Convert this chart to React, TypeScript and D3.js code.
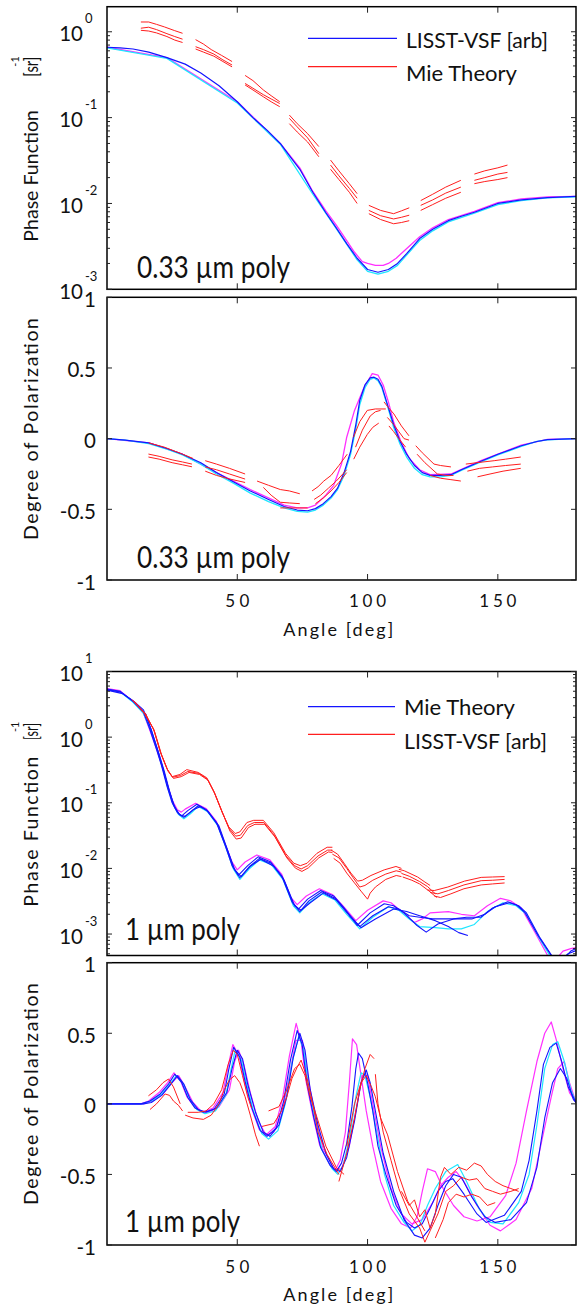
import React from "react";
import * as d3 from "d3";

type Pt = [number, number];
type Seg = Pt[];

// ---------- axis ticks / labels ----------
const angleTicks = [50, 100, 150];
const angleTickLabels = ["50", "100", "150"];
const dopTicks = [-1, -0.5, 0, 0.5, 1];
const dopTickLabels = ["-1", "-0.5", "0", "0.5", "1"];
const p1Decades = [-3, -2, -1, 0];
const p3Decades = [-3, -2, -1, 0, 1];

// ---------- Panel 1 : phase function, 0.33 um ----------
const p1Blue: Pt[] = [[0,0.66],[5,0.65],[10,0.63],[16,0.58],[23,0.50],[30,0.42],[36,0.33],[43,0.235],[50,0.153],[56,0.10],[61.5,0.071],[66.5,0.050],[70,0.036],[74,0.025],[79,0.0135],[84,0.0078],[88,0.0052],[92,0.0034],[96,0.0023],[100,0.0017],[104,0.00158],[108,0.0017],[111.5,0.0020],[115,0.0026],[120,0.0039],[125,0.0050],[131,0.0063],[136,0.0071],[141,0.0079],[150,0.0100],[159,0.0110],[169,0.0117],[180,0.0121]];
const p1Magenta: Pt[] = [[0,0.66],[23,0.50],[50,0.153],[66.5,0.050],[74,0.026],[79,0.0138],[84,0.0082],[88,0.0056],[92,0.0037],[95,0.0027],[98,0.0021],[100,0.0020],[103,0.0019],[106,0.0019],[108,0.0020],[111,0.0023],[114,0.0028],[120,0.0041],[125,0.0052],[131,0.0065],[141,0.0081],[150,0.0102],[159,0.0113],[169,0.0119],[180,0.0121]];
const p1Cyan: Pt[] = [[0,0.65],[23,0.49],[50,0.148],[66.5,0.049],[79,0.0128],[88,0.0051],[96,0.0022],[100,0.00162],[104,0.00150],[108,0.00162],[111.5,0.0019],[115,0.0025],[120,0.0037],[125,0.0048],[131,0.0061],[141,0.0077],[150,0.0097],[159,0.0108],[169,0.0116],[180,0.0119]];
const p1RedTop: Seg[] = [
  [[13,1.30],[16,1.30],[19,1.22],[22,1.14],[26,1.03],[29,0.96]],
  [[34,0.81],[37,0.72],[40,0.62],[44,0.53],[48,0.45]],
  [[53,0.31],[56,0.27],[60,0.21],[63,0.18],[66.3,0.153]],
  [[70,0.107],[73,0.085],[77,0.065],[81.3,0.046]],
  [[85.8,0.032],[89,0.024],[93,0.017],[96,0.013]],
  [[100.5,0.0095],[105,0.0083],[110,0.0076],[113,0.0082],[116,0.0089]],
  [[120.4,0.0108],[125,0.0128],[130,0.0155],[135.8,0.0186]],
  [[141,0.022],[145,0.024],[150,0.026],[153.7,0.028]],
];
const p1RedMid: Seg[] = [
  [[13,1.10],[16,1.13],[19,1.06],[23,0.95],[26,0.88],[29,0.82]],
  [[34,0.67],[37,0.62],[41,0.55],[44.5,0.47],[48,0.41]],
  [[53,0.25],[56,0.22],[60,0.185],[63,0.165],[66.3,0.146]],
  [[70,0.098],[73,0.078],[77,0.058],[81.3,0.038]],
  [[85.8,0.028],[89,0.021],[93,0.015],[96,0.0115]],
  [[100.5,0.0083],[105,0.0072],[110,0.0066],[113,0.0069],[116,0.0073]],
  [[120.4,0.0095],[125,0.011],[130,0.0132],[135.8,0.0155]],
  [[141,0.0186],[145,0.020],[150,0.022],[153.7,0.023]],
];
const p1RedLow: Seg[] = [
  [[13,1.04],[16,1.02],[19,0.97],[23,0.88],[26,0.80],[29,0.75]],
  [[34,0.63],[37,0.58],[41,0.52],[44.5,0.45],[48,0.39]],
  [[53,0.24],[56,0.21],[60,0.175],[63,0.153],[66.3,0.134]],
  [[70,0.085],[73,0.068],[77,0.052],[81.3,0.035]],
  [[85.8,0.025],[89,0.019],[93,0.0135],[96,0.010]],
  [[100.5,0.0076],[105,0.0065],[110,0.0058],[113,0.006],[116,0.0063]],
  [[120.4,0.0083],[125,0.0097],[130,0.0115],[135.8,0.0135]],
  [[141,0.017],[145,0.018],[150,0.019],[153.7,0.020]],
];

// ---------- Panel 2 : degree of polarization, 0.33 um ----------
const p2Blue: Pt[] = [[0,0],[7,-0.01],[16,-0.03],[23,-0.07],[29,-0.11],[36,-0.17],[42,-0.24],[49,-0.31],[55,-0.37],[62,-0.43],[68,-0.48],[73,-0.505],[77,-0.51],[80,-0.495],[83,-0.46],[86,-0.41],[88.5,-0.35],[91,-0.24],[93.5,-0.09],[95.5,0.10],[97,0.27],[99,0.38],[101,0.43],[102.5,0.435],[104,0.42],[105.5,0.37],[107.5,0.25],[110,0.10],[112.5,-0.02],[115,-0.11],[118,-0.19],[121,-0.24],[124,-0.26],[128,-0.26],[132,-0.255],[136,-0.22],[143.5,-0.16],[150,-0.11],[159,-0.05],[165,-0.02],[169,-0.007],[180,0]];
const p2Magenta: Pt[] = [[0,0],[16,-0.03],[29,-0.11],[42,-0.24],[55,-0.36],[68,-0.47],[73,-0.49],[77,-0.49],[80,-0.47],[84,-0.40],[87,-0.33],[90,-0.18],[92,0.01],[95,0.20],[98.6,0.36],[101.8,0.46],[104,0.45],[106,0.38],[108,0.26],[110,0.12],[113,-0.03],[116,-0.14],[120,-0.22],[124,-0.255],[132,-0.25],[143.5,-0.155],[159,-0.045],[169,-0.005],[180,0]];
const p2Cyan: Pt[] = [[0,0],[7,-0.01],[16,-0.035],[23,-0.075],[29,-0.115],[36,-0.18],[42,-0.25],[49,-0.32],[55,-0.385],[62,-0.445],[68,-0.49],[73,-0.515],[77,-0.52],[80,-0.505],[83,-0.47],[86,-0.42],[88.5,-0.36],[91,-0.26],[93.5,-0.11],[95.5,0.07],[97,0.24],[99,0.36],[101,0.42],[102.5,0.43],[104,0.41],[105.5,0.36],[107.5,0.24],[110,0.08],[112.5,-0.04],[115,-0.13],[118,-0.21],[121,-0.255],[124,-0.27],[128,-0.27],[132,-0.26],[136,-0.225],[143.5,-0.165],[150,-0.115],[159,-0.055],[165,-0.02],[169,-0.008],[180,0]];
const p2RedTop: Seg[] = [
  [[16,-0.03],[22,-0.06],[29,-0.11],[33,-0.14]],
  [[37.7,-0.156],[42,-0.18],[47,-0.21],[53,-0.25]],
  [[57.6,-0.30],[62,-0.33],[66.5,-0.36],[70,-0.37],[74,-0.39]],
  [[78.7,-0.37],[81,-0.34],[83.2,-0.30],[86,-0.26],[89,-0.19],[92.2,-0.11]],
  [[94.6,0.01],[97,0.12],[99.9,0.2],[103,0.21],[107,0.21]],
  [[106.3,0.26],[108,0.22],[110.1,0.175],[113,0.09],[115.9,0.02]],
  [[118.5,-0.05],[121,-0.1],[125.5,-0.18],[128,-0.19],[132,-0.2]],
  [[137.7,-0.18],[142,-0.17],[148.6,-0.156],[153,-0.145],[158.8,-0.13]],
];
const p2RedMid: Seg[] = [
  [[15.9,-0.109],[20,-0.125],[25,-0.15],[29,-0.165],[32.6,-0.18]],
  [[37.7,-0.20],[42,-0.22],[47,-0.25],[53,-0.286]],
  [[60,-0.345],[63,-0.40],[66.5,-0.45],[70,-0.455],[74,-0.46]],
  [[79.5,-0.43],[82,-0.40],[85,-0.35],[88,-0.30],[92,-0.22]],
  [[95.4,-0.06],[98,0.06],[101,0.16],[103,0.19],[105,0.2]],
  [[107.6,0.15],[110,0.1],[112,0.05],[114,0.0],[115.9,-0.01]],
  [[119,-0.11],[122,-0.17],[126.8,-0.25],[130,-0.26],[133,-0.26]],
  [[138.3,-0.23],[143,-0.21],[148,-0.20],[153,-0.19],[158.8,-0.18]],
];
const p2RedLow: Seg[] = [
  [[15.9,-0.13],[20,-0.145],[25,-0.17],[29,-0.185],[32.6,-0.199]],
  [[37.7,-0.23],[42,-0.26],[47,-0.285],[53,-0.31]],
  [[66.5,-0.49],[70,-0.49],[74,-0.49],[77,-0.49]],
  [[80,-0.46],[83,-0.42],[86,-0.37],[89,-0.31],[92,-0.24]],
  [[94.7,-0.145],[97,-0.06],[99.9,0.03],[102,0.08],[104.3,0.11]],
  [[108.2,0.09],[110,0.05],[112,0.0],[114.6,-0.06]],
  [[124,-0.26],[128,-0.28],[132,-0.29],[135.8,-0.30]],
  [[142.2,-0.27],[147,-0.25],[152,-0.23],[158.8,-0.21]],
];

// ---------- Panel 3 : phase function, 1 um ----------
const p3BlueA: Pt[] = [[0,5.4],[5,5.0],[10,3.5],[14,2.4],[16.5,1.3],[19,0.65],[21,0.36],[23,0.18],[25,0.10],[27,0.071],[28.7,0.063],[31,0.076],[34.5,0.095],[38,0.079],[42,0.050],[45.4,0.022],[48,0.011],[50.4,0.0078],[54,0.011],[58,0.015],[62.7,0.0126],[67,0.0078],[71,0.0031],[73.5,0.0024],[77,0.0034],[82,0.0046],[87,0.0038],[91,0.0025],[96,0.00135],[101,0.0021],[106.4,0.0029],[110,0.0027],[114,0.0021],[119,0.00135],[122.5,0.00107],[127,0.00142],[133,0.0017],[138,0.0018],[143.5,0.0018],[148,0.0025],[153.8,0.0031],[157,0.0028],[160.3,0.00215],[165.4,0.00095],[170.5,0.00047],[173,0.0004],[176,0.00045],[178,0.00055],[180,0.0006]];
const p3BlueB: Pt[] = [[0,5.3],[5,4.9],[10,3.6],[14,2.6],[17,1.3],[19.5,0.62],[21.5,0.33],[23.5,0.17],[25.5,0.095],[27.5,0.068],[29.5,0.060],[32,0.072],[35,0.090],[38.5,0.076],[42.5,0.046],[46,0.020],[48.5,0.0105],[51,0.0072],[54.5,0.0105],[58.5,0.0142],[63,0.012],[67.5,0.0072],[71.5,0.0029],[74,0.0022],[77.5,0.0032],[82.5,0.0044],[87.5,0.0035],[92,0.0022],[97,0.0013],[102,0.0019],[108,0.0026],[112,0.0024],[116,0.0019],[120,0.0018],[125,0.0017],[130,0.0017],[135,0.0017],[140,0.0017],[145,0.0020],[149,0.0026],[154.5,0.0030],[158,0.0027],[161,0.0021],[166,0.0009],[171,0.00045],[174,0.0004],[177,0.0005],[180,0.00056]];
const p3BlueC: Pt[] = [[0,5.2],[6,4.6],[11,3.3],[15,2.2],[17.5,1.1],[20,0.55],[22,0.3],[24,0.15],[26,0.085],[28,0.065],[30,0.062],[33,0.078],[36,0.088],[39,0.072],[43,0.044],[46.5,0.018],[49,0.0095],[51.5,0.0075],[55,0.0108],[59,0.0138],[64,0.0108],[68,0.0066],[72,0.0027],[74.5,0.0023],[78,0.0030],[83,0.0042],[88,0.0033],[93,0.0019],[97.5,0.00125],[103,0.0017],[110,0.0024],[115,0.0022],[120,0.0019],[126,0.0016],[131,0.0013],[135,0.00105],[138.5,0.00095]];
const p3Magenta: Pt[] = [[0,5.5],[5,5.1],[10,3.5],[14,2.3],[16.5,1.25],[19,0.66],[21,0.38],[23,0.2],[25,0.11],[27,0.078],[28.5,0.072],[30,0.08],[34,0.098],[38,0.082],[42,0.052],[45.4,0.023],[48,0.0125],[50,0.0095],[53,0.0125],[57.5,0.016],[62.5,0.0135],[67,0.0082],[70.5,0.0036],[73,0.0028],[76.5,0.0038],[81.5,0.0049],[86.5,0.0040],[90.5,0.0027],[95.5,0.0016],[100,0.0023],[106,0.0032],[109,0.0030],[113,0.0022],[118,0.0015],[121,0.0017],[124,0.0021],[131,0.0022],[136,0.0020],[141,0.0019],[146,0.0027],[151,0.0035],[155,0.0032],[159,0.0025],[164,0.0011],[169,0.00048],[172,0.0004],[175,0.00055],[178,0.0006],[180,0.00062]];
const p3Cyan: Pt[] = [[0,5.3],[5,4.9],[10,3.4],[14,2.3],[17,1.2],[19.5,0.6],[21.5,0.32],[23.5,0.16],[25.5,0.092],[27.5,0.066],[29.5,0.057],[32,0.068],[35,0.088],[38.5,0.074],[42.5,0.045],[46,0.019],[48.5,0.0098],[51,0.0068],[54.5,0.0098],[58.5,0.0135],[63,0.0115],[67.5,0.0068],[71.5,0.0027],[74,0.0021],[77.5,0.003],[82.5,0.0041],[87.5,0.0033],[92,0.002],[97,0.0012],[102,0.0018],[108,0.0026],[112,0.0023],[116,0.0017],[120,0.0013],[126,0.00125],[131,0.0012],[136,0.0012],[141,0.0014],[146,0.0022],[152,0.003],[157,0.0027],[161,0.002],[166,0.00085],[171,0.0004]];
const p3RedTop: Seg[] = [
  [[9.5,3.75],[14,2.4],[17.8,1.35],[20.4,0.6],[23,0.33],[25,0.25],[28,0.27],[30.6,0.32],[35,0.29],[38.3,0.24],[41,0.15],[44,0.075],[46.7,0.043],[49.2,0.034],[51,0.036],[53.7,0.05],[56.3,0.054],[60,0.054],[64,0.035],[68.5,0.017],[71.7,0.012],[74.2,0.011],[76.8,0.012],[80.6,0.017],[84.5,0.021],[86.5,0.021]],
  [[86,0.019],[88.5,0.0165],[91,0.012],[93.6,0.0085],[96.2,0.0064],[98,0.0066],[101.3,0.0078],[106.4,0.0095],[110.9,0.0107],[113,0.0100]],
  [[112,0.0097],[114.1,0.0092],[119.2,0.0074],[122,0.0062],[124,0.0055]],
  [[123,0.0047],[125.6,0.0046],[130.8,0.0052],[137.2,0.0064],[143.6,0.0073],[148,0.0074],[152.6,0.0075]],
];
const p3RedMid: Seg[] = [
  [[10,3.6],[14.5,2.3],[18,1.3],[20.6,0.58],[23.2,0.32],[25.2,0.245],[28.2,0.26],[31,0.3],[35.3,0.28],[38.5,0.23],[41.2,0.142],[44.2,0.072],[47,0.04],[49.4,0.031],[51.2,0.032],[54,0.045],[56.5,0.05],[60.2,0.05],[64.2,0.032],[68.7,0.0155],[72,0.011],[74.5,0.0098],[77,0.011],[81,0.0155],[84.7,0.019],[86.5,0.019]],
  [[86.5,0.0165],[89,0.0145],[92,0.01],[94.5,0.0072],[97,0.0052],[99,0.0055],[102,0.0066],[107,0.0082],[111,0.0092],[113,0.0088]],
  [[113,0.0084],[116,0.0076],[120,0.0063],[123,0.0053],[126,0.0041]],
  [[124,0.0043],[127,0.0041],[131,0.0046],[137,0.0056],[143.6,0.0065],[148,0.0066],[152.6,0.0068]],
];
const p3RedLow: Seg[] = [
  [[10.5,3.5],[15,2.2],[18.3,1.2],[21,0.53],[23.5,0.3],[25.5,0.235],[28.5,0.25],[31.5,0.29],[35.5,0.27],[38.8,0.22],[41.5,0.135],[44.5,0.068],[47.2,0.037],[49.6,0.028],[51.5,0.029],[54.3,0.042],[56.8,0.047],[60.5,0.047],[64.5,0.03],[69,0.0145],[72.3,0.0101],[74.8,0.009],[77.3,0.0102],[81.3,0.0145],[85,0.0178],[86.5,0.0175]],
  [[87,0.0142],[89.5,0.012],[92,0.0085],[95,0.006],[97.5,0.0045],[100,0.0034],[101,0.0042],[103,0.0052],[107,0.0068],[111,0.0078],[113,0.0075]],
  [[113.5,0.0074],[117,0.0066],[120,0.0058],[124,0.0044],[126.5,0.0036]],
  [[125.6,0.0038],[128,0.0036],[132,0.0041],[137,0.0049],[143.6,0.0056],[148,0.0058],[152.6,0.006]],
];

// ---------- Panel 4 : degree of polarization, 1 um ----------
const p4BlueA: Pt[] = [[0,0],[13,0],[16.5,0.02],[20.4,0.07],[23.6,0.14],[26,0.21],[28.7,0.15],[31,0.045],[33.8,-0.03],[37,-0.06],[41,-0.04],[45,0.07],[46.7,0.24],[48.6,0.40],[51,0.33],[53,0.16],[55.6,-0.03],[58.8,-0.19],[61.4,-0.23],[65,-0.17],[67.8,0.02],[70.4,0.31],[73,0.52],[74.9,0.42],[76.8,0.14],[79.4,-0.10],[82,-0.31],[85.8,-0.44],[88,-0.48],[90,-0.42],[92,-0.28],[94,-0.02],[95.5,0.25],[96.5,0.36],[98,0.32],[100,0.15],[102,-0.05],[104,-0.3],[107,-0.5],[111,-0.72],[115,-0.84],[118,-0.88],[121,-0.85],[124,-0.74],[127,-0.62],[130,-0.55],[132.7,-0.53],[137,-0.64],[142,-0.78],[145.5,-0.84],[152.5,-0.79],[159,-0.62],[162,-0.40],[165,-0.05],[167.5,0.28],[170,0.40],[172.4,0.43],[174.5,0.3],[177,0.12],[180,0.01]];
const p4BlueB: Pt[] = [[0,0],[14,0],[17,0.01],[21,0.06],[24.5,0.14],[27,0.2],[29.5,0.14],[32,0.03],[35,-0.04],[38,-0.06],[42,-0.03],[46,0.08],[48,0.25],[50,0.38],[52,0.32],[54,0.14],[57,-0.06],[60,-0.2],[62.5,-0.23],[66,-0.15],[69,0.05],[71.5,0.33],[74,0.50],[76,0.38],[78,0.10],[81,-0.15],[84,-0.35],[87,-0.46],[89.5,-0.48],[92,-0.38],[95,-0.12],[97.5,0.15],[99.5,0.24],[101,0.15],[103,-0.05],[106,-0.35],[110,-0.62],[114,-0.82],[118,-0.93],[121,-0.95],[124,-0.88],[127,-0.72],[130,-0.58],[133,-0.50],[136,-0.52],[140,-0.66],[145,-0.8],[149,-0.84],[155,-0.82],[161,-0.70],[165,-0.45],[168,-0.1],[171,0.15],[174,0.25],[176.5,0.18],[179,0.03],[180,0.01]];
const p4MagentaA: Pt[] = [[0,0],[13,0],[16,0.02],[20,0.08],[23.3,0.15],[25.7,0.22],[28.3,0.16],[30.7,0.05],[33.5,-0.02],[36.7,-0.06],[40.7,-0.03],[44.5,0.08],[46.4,0.26],[48.3,0.42],[50.7,0.34],[52.7,0.16],[55.3,-0.02],[58.4,-0.18],[61,-0.22],[64.6,-0.16],[67.4,0.04],[70,0.34],[72.6,0.57],[74.5,0.44],[76.4,0.16],[79,-0.08],[81.6,-0.29],[85.4,-0.43],[87.6,-0.47],[89.5,-0.40],[91.5,-0.20],[93,0.15],[94.2,0.46],[95.8,0.42],[97.5,0.2],[99.5,-0.05],[102,-0.3],[105,-0.55],[109,-0.74],[113,-0.85],[116.5,-0.88],[119,-0.80],[121,-0.62],[123,-0.46],[126,-0.48],[129,-0.6],[133,-0.72],[137,-0.8],[142,-0.83],[147,-0.8],[153,-0.65],[157,-0.42],[161,-0.05],[165,0.3],[168,0.5],[170.5,0.58],[172.5,0.45],[175,0.25],[177.5,0.08],[180,0.01]];
const p4MagentaB: Pt[] = [[0,0],[14,0],[17.5,0.02],[21.5,0.07],[25,0.15],[27.5,0.2],[30,0.12],[33,0.01],[36,-0.05],[39,-0.06],[43,-0.02],[47,0.1],[49,0.3],[50.5,0.38],[52.5,0.28],[55,0.08],[58,-0.12],[61,-0.22],[64,-0.2],[67,-0.08],[70,0.2],[72.5,0.45],[75,0.45],[77,0.2],[80,-0.1],[83,-0.32],[87,-0.46],[90,-0.46],[93,-0.3],[96,0.0],[98,0.2],[100,0.2],[102,0.0],[105,-0.3],[109,-0.6],[113,-0.78],[117,-0.85],[121,-0.82],[125,-0.7],[128,-0.58],[131,-0.52],[134,-0.48],[137,-0.55],[142,-0.72],[147,-0.86],[151,-0.9],[157,-0.82],[163,-0.6],[167,-0.25],[170.5,0.05],[173,0.25],[175.5,0.3],[177.5,0.15],[180,0.01]];
const p4Cyan: Pt[] = [[0,0],[13.5,0],[17,0.02],[21,0.07],[24.2,0.14],[26.6,0.2],[29.3,0.14],[31.6,0.04],[34.4,-0.04],[37.6,-0.07],[41.6,-0.05],[45.6,0.06],[47.3,0.22],[49.2,0.38],[51.6,0.31],[53.6,0.14],[56.2,-0.05],[59.4,-0.21],[62,-0.25],[65.6,-0.19],[68.4,0.0],[71,0.29],[73.6,0.48],[75.5,0.38],[77.4,0.12],[80,-0.12],[82.6,-0.33],[86.4,-0.46],[88.6,-0.5],[90.6,-0.44],[93,-0.25],[95.5,0.05],[97.5,0.22],[99,0.2],[101,0.05],[103.5,-0.2],[106.5,-0.5],[110,-0.72],[114,-0.84],[117,-0.9],[120,-0.86],[123,-0.72],[126,-0.6],[130,-0.48],[134.6,-0.43],[138,-0.55],[143,-0.75],[147,-0.84],[152,-0.85],[158,-0.7],[162,-0.5],[165,-0.15],[168,0.25],[171,0.42],[173,0.44],[175.5,0.3],[178,0.1],[180,0.01]];
const p4RedA: Seg[] = [
  [[15.9,0.057],[19,0.1],[21.5,0.15],[23.6,0.176],[25.5,0.12],[28.1,0.0]],
  [[31,-0.06],[35,-0.06],[38,-0.05],[41,0.0],[44,0.1],[46.5,0.28],[48.5,0.38],[50,0.35],[52,0.2],[54,0.05],[55.5,-0.03]],
  [[59.5,-0.16],[64,-0.14],[67,-0.05],[69,0.05],[71,0.18],[73,0.26],[74.5,0.31],[76.8,0.18],[79,0.0],[81,-0.2],[84.5,-0.36],[89,-0.5]],
  [[89,-0.55],[92,-0.35],[95,-0.1],[97,0.1],[99,0.25],[101,0.35],[102.5,0.32]],
  [[113,-0.62],[116,-0.72],[118,-0.68],[120,-0.8],[122,-0.75],[124,-0.88],[126,-0.78],[128,-0.52],[129.5,-0.45],[132,-0.5],[135,-0.45],[138,-0.47],[141,-0.42],[143.6,-0.44],[146,-0.5],[149,-0.55],[152,-0.58],[155,-0.6],[158,-0.62]],
];
const p4RedB: Seg[] = [
  [[16.5,-0.04],[19,0.0],[22.3,0.07],[24,0.06],[25.5,0.02],[27.4,-0.01],[29,-0.05]],
  [[30,-0.08],[33,-0.1],[37,-0.11],[40,-0.08],[43,0.0],[45,0.1],[47,0.17],[49,0.2],[51,0.15],[53,0.05],[55,-0.08],[57,-0.22],[58.5,-0.3]],
  [[62,-0.05],[66,-0.02],[69,0.1],[72,0.25],[74,0.28],[76,0.2],[78,0.05],[81,-0.12],[84,-0.3],[88,-0.45],[91,-0.5]],
  [[92,-0.3],[95,0.0],[97.5,0.15],[99.5,0.2],[101.5,0.12],[103,0.05],[105,-0.1],[107.7,-0.22],[111.5,-0.48],[115.4,-0.69],[119.2,-0.81],[122,-0.9]],
  [[124,-0.9],[127,-0.78],[130,-0.62],[133,-0.58],[136,-0.52],[139,-0.54],[142,-0.53],[145,-0.6],[148,-0.62],[151,-0.64],[155,-0.62],[158,-0.6]],
];
const p4RedC: Seg[] = [
  [[103,0.21],[104,0.0],[106,-0.2],[109,-0.4],[112,-0.6],[116,-0.78],[120,-0.88],[122,-0.98],[124,-0.9]],
  [[126,-0.95],[129,-0.82],[131,-0.7],[134,-0.64],[137,-0.66],[140,-0.64],[143,-0.66],[146,-0.72],[149,-0.7]],
];

// ---------- layout ----------
const FONT = "Lato, 'Open Sans', sans-serif";
const BLUE = "#1414ff";
const RED = "#ff1e1e";
const MAG = "#ff30ff";
const CYAN = "#1ee6ff";
const X0 = 107, X1 = 576;
const x = d3.scaleLinear().domain([0, 180]).range([X0, X1]);

const P1 = { top: 6.7, bottom: 289.3 };
const P2 = { top: 297.3, bottom: 580 };
const P3 = { top: 671.5, bottom: 955.5 };
const P4 = { top: 962.7, bottom: 1245 };

const y1 = d3.scaleLog().domain([1e-3, 1.959]).range([P1.bottom, P1.top]);
const y2 = d3.scaleLinear().domain([-1, 1]).range([P2.bottom, P2.top]);
const y3 = d3.scaleLog().domain([4.71e-4, 10]).range([P3.bottom, P3.top]);
const y4 = d3.scaleLinear().domain([-1, 1]).range([P4.bottom, P4.top]);

function Frame({ p }: { p: { top: number; bottom: number } }) {
  return <rect x={X0} y={p.top} width={X1 - X0} height={p.bottom - p.top} fill="none" stroke="#000" strokeWidth={1.5} />;
}

function XTicks({ p }: { p: { top: number; bottom: number } }) {
  return (
    <g stroke="#222" strokeWidth={1}>
      {angleTicks.map((t) => (
        <g key={t}>
          <line x1={x(t)} x2={x(t)} y1={p.top} y2={p.top + 6} />
          <line x1={x(t)} x2={x(t)} y1={p.bottom - 6} y2={p.bottom} />
        </g>
      ))}
    </g>
  );
}

function XLabels({ base, title }: { base: number; title: number }) {
  return (
    <g fontFamily={FONT} fill="#111">
      {angleTicks.map((t, i) => (
        <text key={t} x={x(t)} y={base} fontSize={17} textAnchor="middle" textLength={i === 0 ? 24 : 37} lengthAdjust="spacing">
          {angleTickLabels[i]}
        </text>
      ))}
      <text x={338.3} y={title} fontSize={18} textAnchor="middle" textLength={110} lengthAdjust="spacing">Angle [deg]</text>
    </g>
  );
}

function LinYAxis({ ys }: { ys: d3.ScaleLinear<number, number> }) {
  return (
    <g>
      <g stroke="#222" strokeWidth={1}>
        {dopTicks.map((v) => (
          <g key={v}>
            <line x1={X0} x2={X0 + 5} y1={ys(v)} y2={ys(v)} />
            <line x1={X1 - 5} x2={X1} y1={ys(v)} y2={ys(v)} />
          </g>
        ))}
      </g>
      <g fontFamily={FONT} fontSize={20.5} fill="#111" textAnchor="end">
        {dopTicks.map((v, i) => (
          <text key={v} x={96} y={ys(v) + 9.5}>{dopTickLabels[i]}</text>
        ))}
      </g>
    </g>
  );
}

function LogYAxis({ ys, decades }: { ys: d3.ScaleLogarithmic<number, number>; decades: number[] }) {
  const ticks = ys.ticks();
  return (
    <g>
      <g stroke="#222" strokeWidth={1}>
        {ticks.map((v, i) => {
          const major = Math.abs(Math.log10(v) - Math.round(Math.log10(v))) < 1e-6;
          const len = major ? 5 : 3;
          const yy = ys(v);
          return (
            <g key={i}>
              <line x1={X0} x2={X0 + len} y1={yy} y2={yy} />
              <line x1={X1 - len} x2={X1} y1={yy} y2={yy} />
            </g>
          );
        })}
      </g>
      <g fontFamily={FONT} fill="#111">
        {decades.map((k) => {
          const yy = ys(Math.pow(10, k));
          return (
            <g key={k}>
              <text x={83} y={yy + 9.5} fontSize={20.5} textAnchor="end">10</text>
              <text x={85} y={yy - 8.5} fontSize={13} textAnchor="start">{String(k)}</text>
            </g>
          );
        })}
      </g>
    </g>
  );
}

function YTitle({ text, xb, start, len }: { text: string; xb: number; start: number; len: number }) {
  return (
    <text transform={`translate(${xb},${start}) rotate(-90)`} fontFamily={FONT} fontSize={19.5} fill="#111" textLength={len} lengthAdjust="spacing">
      {text}
    </text>
  );
}

function PhaseTitle({ start, len, brStart, brLen, supStart }: { start: number; len: number; brStart: number; brLen: number; supStart: number }) {
  return (
    <g>
      <YTitle text="Phase Function" xb={38.3} start={start} len={len} />
      <text transform={`translate(38.3,${brStart}) rotate(-90)`} fontFamily={FONT} fontSize={19.5} fill="#111" textLength={brLen} lengthAdjust="spacingAndGlyphs">[sr]</text>
      <text transform={`translate(18.5,${supStart}) rotate(-90)`} fontFamily={FONT} fontSize={11} fill="#111">-1</text>
    </g>
  );
}

export default function App() {
  const mk = (ys: any) => d3.line<Pt>().x((d) => x(d[0])).y((d) => ys(d[1]));
  const l1 = mk(y1), l2 = mk(y2), l3 = mk(y3), l4 = mk(y4);
  const path = (gen: any, data: Pt[], color: string, key: string, w = 1.1) => (
    <path key={key} d={gen(data) || ""} fill="none" stroke={color} strokeWidth={w} strokeLinejoin="round" />
  );
  const segs = (gen: any, data: Seg[], color: string, key: string) => data.map((s, i) => path(gen, s, color, `${key}${i}`, 1));

  const panels = [P1, P2, P3, P4];
  return (
    <svg width={577} height={1307} style={{ position: "absolute", left: 0, top: 0, background: "#fff" }}>
      <defs>
        {panels.map((p, i) => (
          <clipPath id={`clip${i}`} key={i}>
            <rect x={X0} y={p.top} width={X1 - X0} height={p.bottom - p.top} />
          </clipPath>
        ))}
      </defs>
      <rect x={0} y={0} width={577} height={1307} fill="#fff" />

      {/* Panel 1 */}
      <g clipPath="url(#clip0)">
        {path(l1, p1Magenta, MAG, "p1m", 1.3)}
        {path(l1, p1Cyan, CYAN, "p1c", 1.3)}
        {path(l1, p1Blue, BLUE, "p1b", 1.2)}
        {segs(l1, p1RedTop, RED, "p1ra")}
        {segs(l1, p1RedMid, RED, "p1rb")}
        {segs(l1, p1RedLow, RED, "p1rc")}
      </g>
      <Frame p={P1} />
      <XTicks p={P1} />
      <LogYAxis ys={y1} decades={p1Decades} />
      <PhaseTitle start={241.7} len={131.7} brStart={76.7} brLen={20} supStart={66.7} />
      <line x1={308} x2={397} y1={38.3} y2={38.3} stroke={BLUE} strokeWidth={1.2} />
      <line x1={308} x2={397} y1={66.7} y2={66.7} stroke={RED} strokeWidth={1.2} />
      <text x={406} y={48.3} fontFamily={FONT} fontSize={22} fill="#111" textLength={142} lengthAdjust="spacingAndGlyphs">LISST-VSF [arb]</text>
      <text x={406} y={81.3} fontFamily={FONT} fontSize={22} fill="#111" textLength={111} lengthAdjust="spacingAndGlyphs">Mie Theory</text>
      <text x={137} y={278.3} fontFamily={FONT} fontSize={31} fill="#111" textLength={153} lengthAdjust="spacingAndGlyphs">0.33 µm poly</text>

      {/* Panel 2 */}
      <g clipPath="url(#clip1)">
        {path(l2, p2Magenta, MAG, "p2m", 1.3)}
        {path(l2, p2Cyan, CYAN, "p2c", 1.3)}
        {path(l2, p2Blue, BLUE, "p2b", 1.2)}
        {segs(l2, p2RedTop, RED, "p2ra")}
        {segs(l2, p2RedMid, RED, "p2rb")}
        {segs(l2, p2RedLow, RED, "p2rc")}
      </g>
      <Frame p={P2} />
      <XTicks p={P2} />
      <LinYAxis ys={y2} />
      <XLabels base={607} title={636} />
      <YTitle text="Degree of Polarization" xb={38.3} start={540} len={222} />
      <text x={137} y={568.3} fontFamily={FONT} fontSize={31} fill="#111" textLength={153} lengthAdjust="spacingAndGlyphs">0.33 µm poly</text>

      {/* Panel 3 */}
      <g clipPath="url(#clip2)">
        {path(l3, p3Magenta, MAG, "p3m", 1.2)}
        {path(l3, p3Cyan, CYAN, "p3c", 1.2)}
        {path(l3, p3BlueC, BLUE, "p3bc", 1.1)}
        {path(l3, p3BlueB, BLUE, "p3bb", 1.1)}
        {path(l3, p3BlueA, BLUE, "p3ba", 1.1)}
        {segs(l3, p3RedTop, RED, "p3ra")}
        {segs(l3, p3RedMid, RED, "p3rb")}
        {segs(l3, p3RedLow, RED, "p3rc")}
      </g>
      <Frame p={P3} />
      <XTicks p={P3} />
      <LogYAxis ys={y3} decades={p3Decades} />
      <PhaseTitle start={906.7} len={150} brStart={740} brLen={17} supStart={732} />
      <line x1={308} x2={395} y1={706.7} y2={706.7} stroke={BLUE} strokeWidth={1.2} />
      <line x1={308} x2={395} y1={734.3} y2={734.3} stroke={RED} strokeWidth={1.2} />
      <text x={404} y={714.5} fontFamily={FONT} fontSize={22} fill="#111" textLength={111} lengthAdjust="spacingAndGlyphs">Mie Theory</text>
      <text x={404} y={749.3} fontFamily={FONT} fontSize={22} fill="#111" textLength={143} lengthAdjust="spacingAndGlyphs">LISST-VSF [arb]</text>
      <text x={125} y={940} fontFamily={FONT} fontSize={31} fill="#111" textLength={115} lengthAdjust="spacingAndGlyphs">1 µm poly</text>

      {/* Panel 4 */}
      <g clipPath="url(#clip3)">
        {path(l4, p4MagentaA, MAG, "p4ma", 1.2)}
        {path(l4, p4MagentaB, MAG, "p4mb", 1.2)}
        {path(l4, p4Cyan, CYAN, "p4c", 1.2)}
        {path(l4, p4BlueB, BLUE, "p4bb", 1.1)}
        {path(l4, p4BlueA, BLUE, "p4ba", 1.1)}
        {segs(l4, p4RedA, RED, "p4ra")}
        {segs(l4, p4RedB, RED, "p4rb")}
        {segs(l4, p4RedC, RED, "p4rc")}
      </g>
      <Frame p={P4} />
      <XTicks p={P4} />
      <LinYAxis ys={y4} />
      <XLabels base={1273} title={1301} />
      <YTitle text="Degree of Polarization" xb={38.3} start={1205} len={222} />
      <text x={125} y={1231.7} fontFamily={FONT} fontSize={31} fill="#111" textLength={115} lengthAdjust="spacingAndGlyphs">1 µm poly</text>
    </svg>
  );
}
